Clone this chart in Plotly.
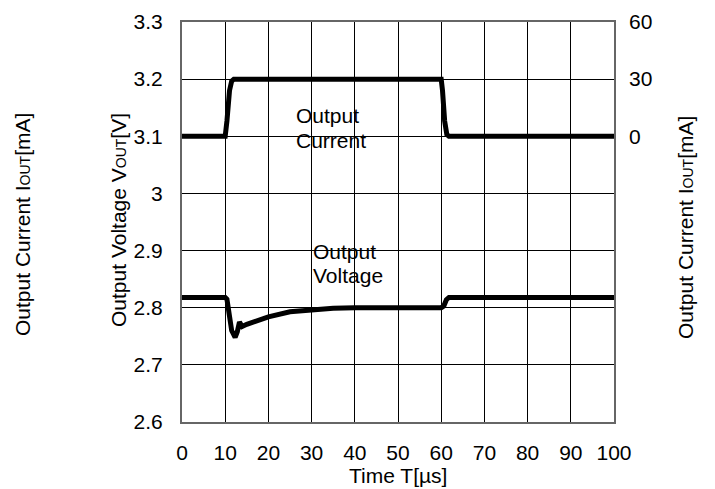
import plotly.graph_objects as go

# Data
t_current = [0, 10, 10.4, 11.0, 11.5, 12.0, 60, 60.3, 60.8, 61.3, 61.8, 100]
i_current = [0, 0, 8, 24, 29, 30, 30, 24, 8, 1, 0, 0]

t_voltage = [0, 10, 10.4, 10.9, 11.5, 12.3, 12.8, 13.3, 13.9, 15, 17, 20, 25, 30, 35, 40, 50, 60, 60.6, 61.2, 61.8, 100]
v_voltage = [2.818, 2.818, 2.815, 2.792, 2.760, 2.748, 2.758, 2.775, 2.767, 2.771, 2.777, 2.784, 2.793, 2.797, 2.799, 2.800, 2.800, 2.800, 2.803, 2.814, 2.818, 2.818]

x_ticks = [0, 10, 20, 30, 40, 50, 60, 70, 80, 90, 100]
v_ticks = [2.6, 2.7, 2.8, 2.9, 3.0, 3.1, 3.2, 3.3]
v_tick_labels = ["2.6", "2.7", "2.8", "2.9", "3", "3.1", "3.2", "3.3"]
i_ticks = [0, 30, 60]

FONT = "Liberation Sans, Arial, sans-serif"
FS = 21

# page offset (body margin) = 8px
PL, PT = 182, 22      # plot left/top in screenshot
PW, PH = 432, 400     # plot width/height

fig = go.Figure()
fig.add_trace(go.Scatter(x=t_voltage, y=v_voltage, mode="lines",
                         line=dict(color="black", width=5), yaxis="y", showlegend=False))
fig.add_trace(go.Scatter(x=t_current, y=i_current, mode="lines",
                         line=dict(color="black", width=5), yaxis="y2", showlegend=False))

fig.update_layout(
    width=707, height=481,
    margin=dict(l=PL - 8, r=707 - (PL - 8) - PW, t=PT - 8, b=481 - (PT - 8) - PH),
    paper_bgcolor="white", plot_bgcolor="white",
    font=dict(family=FONT, size=FS, color="black"),
    xaxis=dict(range=[0, 100], tickvals=x_ticks, showgrid=True, gridcolor="black", gridwidth=1,
               showline=True, linecolor="#666", linewidth=2, mirror=True, zeroline=False,
               ticks="", ticklabelstandoff=11, automargin=False),
    yaxis=dict(range=[2.6, 3.3], tickvals=v_ticks, ticktext=v_tick_labels, showgrid=True,
               gridcolor="black", gridwidth=1, showline=True, linecolor="#666", linewidth=2,
               mirror=True, zeroline=False, ticks="", ticklabelstandoff=13, automargin=False),
    yaxis2=dict(range=[-150, 60], tickvals=i_ticks, overlaying="y", side="right",
                showgrid=False, zeroline=False, showline=False, ticks="", ticklabelstandoff=14,
                automargin=False),
)

sub = "<span style='font-size:14px'>OUT</span>"
titles = [
    ("Output Voltage V" + sub + "[V]", 118, 220),
    ("Output Current I" + sub + "[mA]", 22, 225),
    ("Output Current I" + sub + "[mA]", 685, 228),
]
out = []
for txt, px, py in titles:
    out.append(dict(text=txt, xref="paper", yref="paper",
                    x=(px - PL) / PW, y=(PT + PH - py) / PH,
                    textangle=-90, showarrow=False, xanchor="center", yanchor="middle",
                    font=dict(family=FONT, size=FS)))
out.append(dict(text="Time T[µs]", xref="paper", yref="paper", x=0.5,
                y=(PT + PH - 475) / PH, showarrow=False, xanchor="center", yanchor="middle",
                font=dict(family=FONT, size=FS)))
vpp = 0.7 / PH  # volts per pixel
for txt, tx, py in [("Output", 25.9, 115), ("Current", 25.9, 140),
                    ("Output", 29.8, 251.7), ("Voltage", 29.8, 275)]:
    out.append(dict(text=txt, x=tx, y=3.3 - (py - PT) * vpp, xref="x", yref="y", showarrow=False,
                    xanchor="left", yanchor="middle", font=dict(family=FONT, size=FS)))
fig.update_layout(annotations=out)

fig.write_html("out.html")
